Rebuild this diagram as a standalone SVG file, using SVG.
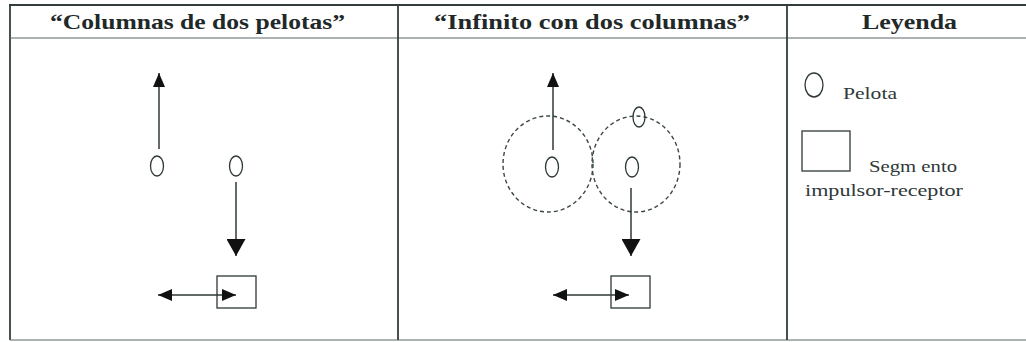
<svg xmlns="http://www.w3.org/2000/svg" width="1026" height="342" viewBox="0 0 1026 342">
  <style>
    .grid { stroke: #333d3d; stroke-width: 1.8; fill: none; }
    .thin { stroke: #5a6666; stroke-width: 1; fill: none; }
    .line { stroke: #2e3838; stroke-width: 1.5; fill: none; }
    .ball { stroke: #2e3838; stroke-width: 1.3; fill: none; }
    .dash { stroke: #3a4646; stroke-width: 1.4; fill: none; stroke-dasharray: 4 3; }
    .head { font-family: "Liberation Serif", serif; font-weight: bold; font-size: 22px; fill: #1f2929; }
    .legend { font-family: "Liberation Serif", serif; font-size: 16px; fill: #2e3838; }
  </style>
  <defs>
    <marker id="tri" viewBox="0 0 14 12" refX="14" refY="6" markerWidth="14" markerHeight="12" markerUnits="userSpaceOnUse" orient="auto">
      <path d="M0,0 L14,6 L0,12 z" fill="#111"/>
    </marker>
    <marker id="triBig" viewBox="0 0 17 19" refX="17" refY="9.5" markerWidth="17" markerHeight="19" markerUnits="userSpaceOnUse" orient="auto">
      <path d="M0,0 L17,9.5 L0,19 z" fill="#111"/>
    </marker>
    <marker id="triStart" viewBox="0 0 14 12" refX="0" refY="6" markerWidth="14" markerHeight="12" markerUnits="userSpaceOnUse" orient="auto">
      <path d="M14,0 L0,6 L14,12 z" fill="#111"/>
    </marker>
  </defs>
  <rect width="1026" height="342" fill="#fff"/>

  <!-- table frame -->
  <g id="frame">
    <line class="grid" x1="9" y1="5" x2="1026" y2="5"/>
    <line class="grid" x1="10" y1="5" x2="10" y2="340"/>
    <line class="thin" x1="10" y1="340" x2="1026" y2="340"/>
    <line class="thin" x1="10" y1="38" x2="1026" y2="38"/>
    <line class="grid" x1="398" y1="5" x2="398" y2="340"/>
    <line class="grid" x1="787" y1="5" x2="787" y2="340"/>
  </g>

  <!-- column headings -->
  <g id="headings">
    <text class="head" x="50" y="29" textLength="295" lengthAdjust="spacingAndGlyphs">“Columnas de dos pelotas”</text>
    <text class="head" x="434" y="29" textLength="316" lengthAdjust="spacingAndGlyphs">“Infinito con dos columnas”</text>
    <text class="head" x="862" y="29" textLength="95" lengthAdjust="spacingAndGlyphs">Leyenda</text>
  </g>

  <!-- panel 1: two-ball columns -->
  <g id="p1-ball-left"><ellipse class="ball" cx="157" cy="166" rx="6.5" ry="10"/></g>
  <g id="p1-ball-right"><ellipse class="ball" cx="236" cy="166" rx="6.5" ry="10"/></g>
  <g id="p1-segment"><rect class="ball" x="217" y="276" width="39" height="32"/></g>

  <!-- panel 2: infinity with two columns -->
  <g id="p2-orbit-left"><ellipse class="dash" cx="548" cy="164" rx="45" ry="48"/></g>
  <g id="p2-orbit-right"><ellipse class="dash" cx="636" cy="164" rx="44" ry="48"/></g>
  <g id="p2-ball-left"><ellipse class="ball" cx="552" cy="167" rx="6.5" ry="10"/></g>
  <g id="p2-ball-right"><ellipse class="ball" cx="632" cy="167" rx="6.5" ry="10"/></g>
  <g id="p2-ball-top"><ellipse class="ball" cx="639" cy="117" rx="6" ry="10" stroke-width="3"/></g>
  <g id="p2-segment"><rect class="ball" x="611" y="276" width="39" height="32"/></g>

  <!-- legend -->
  <g id="legend-ball">
    <ellipse class="ball" cx="814" cy="85" rx="9" ry="12"/>
    <text class="legend" x="843" y="99" textLength="54" lengthAdjust="spacingAndGlyphs">Pelota</text>
  </g>
  <g id="legend-segment">
    <rect class="ball" x="802" y="131" width="48" height="40"/>
    <text class="legend" x="869" y="172" textLength="88" lengthAdjust="spacingAndGlyphs">Segm ento</text>
    <text class="legend" x="805" y="196" textLength="158" lengthAdjust="spacingAndGlyphs">impulsor-receptor</text>
  </g>

  <!-- arrows -->
  <g id="connectors">
    <line class="line" x1="159" y1="149" x2="159" y2="73" marker-end="url(#tri)"/>
    <line class="line" x1="236" y1="182" x2="236" y2="256" marker-end="url(#triBig)"/>
    <line class="line" x1="158" y1="295" x2="236" y2="295" marker-start="url(#triStart)" marker-end="url(#tri)"/>

    <line class="line" x1="553" y1="150" x2="553" y2="73" marker-end="url(#tri)"/>
    <line class="line" x1="631" y1="188" x2="631" y2="256" marker-end="url(#triBig)"/>
    <line class="line" x1="553" y1="295" x2="629" y2="295" marker-start="url(#triStart)" marker-end="url(#tri)"/>
  </g>
</svg>
